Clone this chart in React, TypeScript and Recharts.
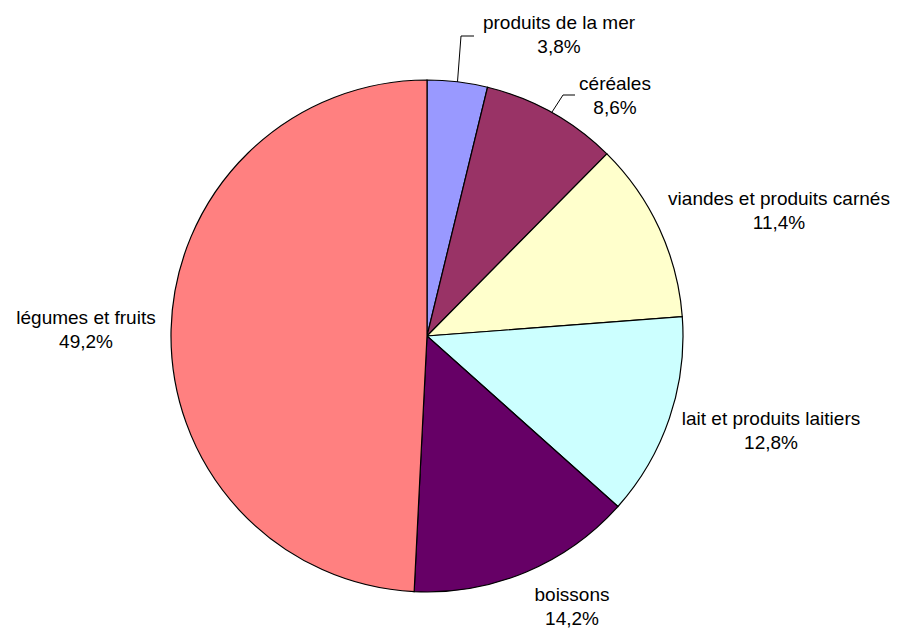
import React from "react";
import { PieChart, Pie, Cell } from "recharts";

const categories = [
  "produits de la mer",
  "céréales",
  "viandes et produits carnés",
  "lait et produits laitiers",
  "boissons",
  "légumes et fruits",
];
const shares = [3.8, 8.6, 11.4, 12.8, 14.2, 49.2];
const sliceColors = ["#9999FF", "#993366", "#FFFFCC", "#CCFFFF", "#660066", "#FF8080"];

// label placement relative to the pie centre (x = text centre, y = first baseline)
const labelOffsets: [number, number][] = [
  [132, -307],
  [188, -246],
  [352, -131],
  [344, 89],
  [145, 265],
  [-341, -12],
];
// leader lines for the two small slices: elbow point, then short horizontal end
const leaders: Record<number, [number, number, number]> = {
  0: [34, -300, 47],
  1: [136, -241, 148],
};

const data = categories.map((name, i) => ({ name, value: shares[i] }));

const RAD = Math.PI / 180;
const fmt = (v: number) => v.toFixed(1).replace(".", ",") + "%";

function renderLabel(props: any) {
  const { cx, cy, midAngle, outerRadius, index, name, value } = props;
  const [dx, dy] = labelOffsets[index];
  const x = cx + dx;
  const y = cy + dy;
  const lead = leaders[index];
  let line = null;
  if (lead) {
    const ex = cx + outerRadius * Math.cos(-midAngle * RAD);
    const ey = cy + outerRadius * Math.sin(-midAngle * RAD);
    const [lx, ly, lx2] = lead;
    line = (
      <polyline
        points={`${ex},${ey} ${cx + lx},${cy + ly} ${cx + lx2},${cy + ly}`}
        fill="none"
        stroke="#000"
        strokeWidth={1}
      />
    );
  }
  return (
    <g key={`lbl-${index}`}>
      {line}
      <text
        x={x}
        y={y}
        textAnchor="middle"
        fill="#000"
        fontFamily="'Liberation Sans', Arial, sans-serif"
        fontSize={19}
      >
        <tspan x={x} y={y}>{name}</tspan>
        <tspan x={x} y={y + 24}>{fmt(value)}</tspan>
      </text>
    </g>
  );
}

export default function App() {
  return (
    <div style={{ position: "absolute", left: 0, top: 0, width: 902, height: 628, background: "#fff" }}>
      <PieChart width={902} height={628} margin={{ top: 0, right: 0, bottom: 0, left: 0 }}>
        <Pie
          data={data}
          dataKey="value"
          nameKey="name"
          cx={427}
          cy={336}
          outerRadius={256}
          startAngle={90}
          endAngle={-270}
          stroke="#000"
          strokeWidth={1.2}
          label={renderLabel}
          labelLine={false}
          isAnimationActive={false}
        >
          {data.map((d, i) => (
            <Cell key={d.name} fill={sliceColors[i]} />
          ))}
        </Pie>
      </PieChart>
    </div>
  );
}
